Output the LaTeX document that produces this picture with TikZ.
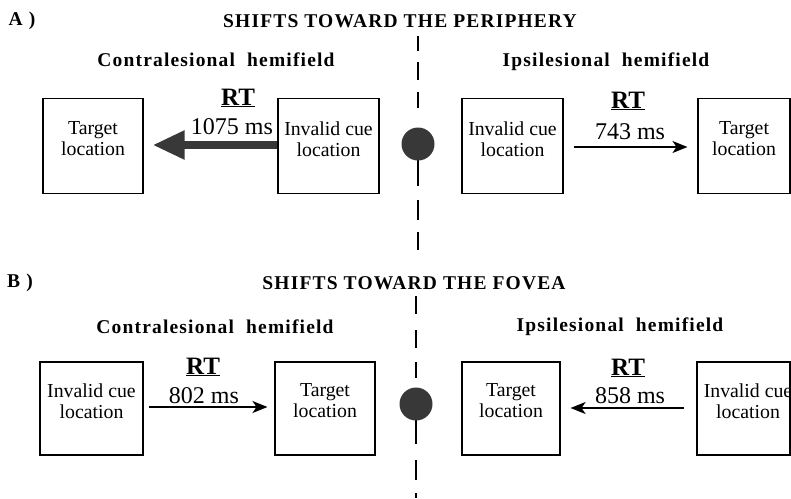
\documentclass[tikz,border=0pt]{standalone}
\usepackage{fontspec}
\setmainfont{Liberation Serif}
\newfontfamily\spacedfont[LetterSpace=6]{Liberation Serif}
\usepackage{tikz}
\usetikzlibrary{arrows.meta,calc}

\definecolor{stipple}{rgb}{0.22,0.22,0.22}

\tikzset{
  loc/.style={draw, line width=1.1pt, minimum width=100, minimum height=95, inner sep=0pt},
  loctext/.style={inner sep=0pt, align=center, font=\fontsize{19.8}{21}\selectfont},
  heading/.style={inner sep=0pt, font=\spacedfont\bfseries\fontsize{19.5}{20}\selectfont},
  rtlabel/.style={inner sep=0pt, font=\bfseries\fontsize{25}{26}\selectfont},
  mslabel/.style={inner sep=0pt, font=\fontsize{24}{26}\selectfont},
  thinshift/.style={line width=1.4pt, -{Stealth[length=15pt,width=12pt,inset=4pt]}},
  fatshift/.style={line width=8pt, color=stipple, -{Triangle[length=32pt,width=27pt]}},
  midline/.style={line width=2.4pt}
}

\begin{document}
\begin{tikzpicture}[x=1pt,y=1pt,yscale=-1,xscale=1]
\useasboundingbox (0,0) rectangle (791,498);
\clip (0,0) rectangle (791,498);

%%%% A) shifts toward the periphery
% Text Node
\node[heading] (labA) at (22,21) {A )};
\node[heading] (titA) at (400,21) {SHIFTS TOWARD THE PERIPHERY};
\node[heading] (contraA) at (216,60) {Contralesional\ \ hemifield};
\node[heading] (ipsiA) at (606,62) {Ipsilesional\ \ hemifield};

%Straight Lines: vertical meridian
\foreach \ya/\yb in {36/51, 62/80, 92/108, 140/186, 200/220, 232/250}
  \draw[midline] (418,\ya) -- (418,\yb);
\node[circle, fill=stipple, minimum size=33, inner sep=0pt] (fixA) at (418,144) {};

% Boxes
\node[loc] (tgtAl) at (93,146) {};
\node[loc, minimum width=101] (cueAl) at (328.5,146) {};
\node[loc, minimum width=101] (cueAr) at (512.5,146) {};
\node[loc, minimum width=92] (tgtAr) at (744,146) {};
\node[loctext] (tgtAl-t) at (93,139) {Target\\location};
\node[loctext] (cueAl-t) at (328.5,139) {Invalid cue\\location};
\node[loctext] (cueAr-t) at (512.5,139) {Invalid cue\\location};
\node[loctext] (tgtAr-t) at (744,139) {Target\\location};

% RT labels
\node[rtlabel] (rtAl) at (238,98) {\underline{RT}};
\node[mslabel] (msAl) at (232,127) {1075 ms};
\node[rtlabel] (rtAr) at (628,101) {\underline{RT}};
\node[mslabel] (msAr) at (630,132) {743 ms};

%Arrows
\draw[fatshift, shorten >=9pt] (cueAl.west |- 0,145) -- (tgtAl.east |- 0,145);
\draw[thinshift, shorten <=10pt, shorten >=10pt] (cueAr.east |- 0,147) -- (tgtAr.west |- 0,147);

%%%% B) shifts toward the fovea
% Text Node
\node[heading] (labB) at (20,283) {B )};
\node[heading] (titB) at (414,283) {SHIFTS TOWARD THE FOVEA};
\node[heading] (contraB) at (215,327) {Contralesional\ \ hemifield};
\node[heading] (ipsiB) at (620,327) {Ipsilesional\ \ hemifield};

%Straight Lines: vertical meridian
\foreach \ya/\yb in {296/314, 330/348, 362/378, 400/444, 460/480, 493/498}
  \draw[midline] (416,\ya) -- (416,\yb);
\node[circle, fill=stipple, minimum size=33, inner sep=0pt] (fixB) at (416,404) {};

% Boxes
\node[loc, minimum width=103, minimum height=93] (cueBl) at (91.5,408.5) {};
\node[loc, minimum height=93] (tgtBl) at (325,408.5) {};
\node[loc, minimum width=98, minimum height=93] (tgtBr) at (511,408.5) {};
\node[loc, minimum width=93, minimum height=93] (cueBr) at (743.5,408.5) {};
\node[loctext] (cueBl-t) at (91.5,401) {Invalid cue\\location};
\node[loctext] (tgtBl-t) at (325,401) {Target\\location};
\node[loctext] (tgtBr-t) at (511,401) {Target\\location};
\node[loctext] (cueBr-t) at (748,401) {Invalid cue\\location};

% RT labels
\node[rtlabel] (rtBl) at (203,367) {\underline{RT}};
\node[mslabel] (msBl) at (204,396) {802 ms};
\node[rtlabel] (rtBr) at (628,368) {\underline{RT}};
\node[mslabel] (msBr) at (630,396) {858 ms};

%Arrows
\draw[thinshift, shorten <=5pt, shorten >=7pt] (cueBl.east |- 0,407) -- (tgtBl.west |- 0,407);
\draw[thinshift, shorten <=12pt, shorten >=10pt] (cueBr.west |- 0,408) -- (tgtBr.east |- 0,408);

\end{tikzpicture}
\end{document}
